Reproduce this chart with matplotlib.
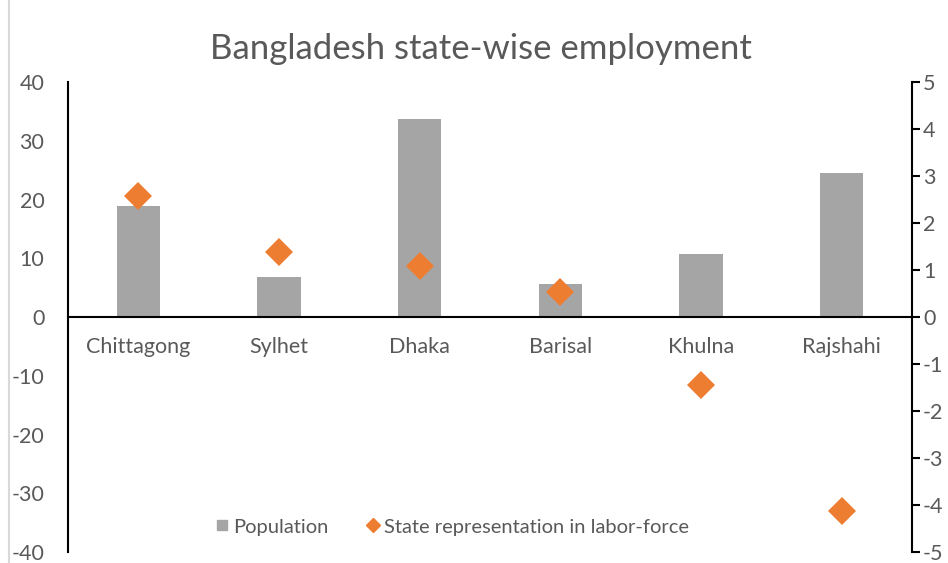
import numpy as np
import matplotlib.pyplot as plt
from matplotlib.lines import Line2D

states = ["Chittagong", "Sylhet", "Dhaka", "Barisal", "Khulna", "Rajshahi"]
population = [18.9, 6.9, 33.7, 5.6, 10.8, 24.5]
labor_force = [2.57, 1.39, 1.09, 0.54, -1.45, -4.13]
left_ticks = [-40, -30, -20, -10, 0, 10, 20, 30, 40]
right_ticks = [-5, -4, -3, -2, -1, 0, 1, 2, 3, 4, 5]

GRAY = "#A5A5A5"
ORANGE = "#ED7D31"
TXT = "#595959"

plt.rcParams['font.family'] = ['Lato', 'DejaVu Sans']
plt.rcParams['axes.unicode_minus'] = False

fig = plt.figure(figsize=(9.48, 5.63), dpi=100)
ax = fig.add_axes([0.0717, 0.0195, 0.8903, 0.8345])
x = np.arange(len(states))

ax.bar(x, population, width=0.31, color=GRAY, zorder=2)
ax.set_xlim(-0.5, 5.5)
ax.set_ylim(-40, 40)
ax.set_yticks(left_ticks)
ax.tick_params(axis="y", length=0, pad=17, labelsize=15.5, labelcolor=TXT)
ax.set_xticks(x)
ax.set_xticklabels(states)
ax.tick_params(axis="x", length=0, pad=14, labelsize=15.5, labelcolor=TXT)
ax.spines["bottom"].set_position(("data", 0))
ax.spines["bottom"].set_linewidth(1.5)
ax.spines["left"].set_linewidth(1.5)
ax.spines["top"].set_visible(False)
ax.spines["right"].set_visible(False)

ax2 = ax.twinx()
ax2.plot(x, labor_force, linestyle="none", marker="D", markersize=14,
         color=ORANGE, markeredgewidth=0, zorder=3)
ax2.set_ylim(-5, 5)
ax2.set_yticks(right_ticks)
ax2.tick_params(axis="y", length=6, width=1.5, pad=2, labelsize=15.5, labelcolor=TXT)
for s in ["top", "left", "bottom"]:
    ax2.spines[s].set_visible(False)
ax2.spines["right"].set_linewidth(1.5)

fig.text(0.507, 0.913, "Bangladesh state-wise employment", ha="center", va="center",
         fontsize=25, color=TXT)

handles = [
    Line2D([], [], linestyle="none", marker="s", markersize=7.5, color=GRAY),
    Line2D([], [], linestyle="none", marker="D", markersize=7.5, color=ORANGE),
]
fig.legend(handles, ["Population", "State representation in labor-force"],
           loc="center", bbox_to_anchor=(0.476, 0.064), ncol=2, frameon=False,
           fontsize=14.5, labelcolor=TXT, handletextpad=0.15, columnspacing=1.8,
           handlelength=0.8)

fig.add_artist(Line2D([0.0095, 0.0095], [0, 1], color="#D9D9D9", linewidth=1.5))

fig.savefig("out.png", dpi=100)
